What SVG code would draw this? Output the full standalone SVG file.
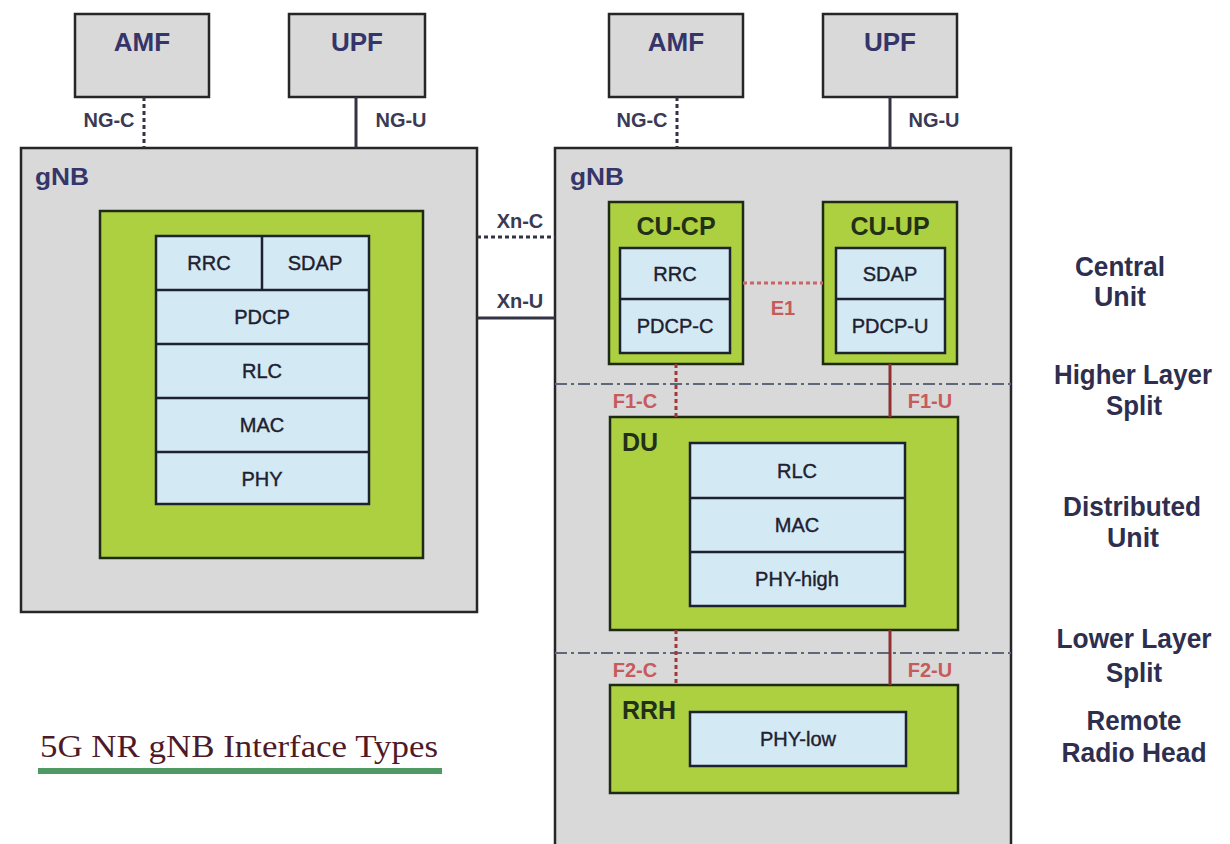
<svg xmlns="http://www.w3.org/2000/svg" width="1230" height="844" viewBox="0 0 1230 844">
<style>
.bg{fill:#ffffff}
.grey{fill:#d9d9d9;stroke:#262626;stroke-width:2.5}
.green{fill:#acd03f;stroke:#1e2a14;stroke-width:2.5}
.blue{fill:#d3e9f3;stroke:#1c2230;stroke-width:2.5}
.div{stroke:#1c2230;stroke-width:2.5}
.core{font-family:"Liberation Sans",Arial,sans-serif;font-weight:bold;font-size:26px;fill:#35356a;text-anchor:middle}
.gnb{font-family:"Liberation Sans",Arial,sans-serif;font-weight:bold;font-size:24px;fill:#35356a}
.lbl{font-family:"Liberation Sans",Arial,sans-serif;font-weight:bold;font-size:20px;fill:#3a3a55;text-anchor:middle}
.red{font-family:"Liberation Sans",Arial,sans-serif;font-weight:bold;font-size:20px;fill:#c75a5a;text-anchor:middle}
.unit{font-family:"Liberation Sans",Arial,sans-serif;font-weight:bold;font-size:25px;fill:#233018}
.unitc{font-family:"Liberation Sans",Arial,sans-serif;font-weight:bold;font-size:25px;fill:#233018;text-anchor:middle}
.layer{font-family:"Liberation Sans",Arial,sans-serif;font-size:20px;fill:#1e2030;stroke:#1e2030;stroke-width:0.4;text-anchor:middle}
.side{font-family:"Liberation Sans",Arial,sans-serif;font-weight:bold;font-size:27px;fill:#2e2e4e;text-anchor:middle}
.title{font-family:"Liberation Serif","Times New Roman",serif;font-size:31px;fill:#4e1a28}
.dashc{stroke:#333344;stroke-width:3;stroke-dasharray:4 3;fill:none}
.solid{stroke:#333344;stroke-width:3;fill:none}
.dashr{stroke:#a03838;stroke-width:3;stroke-dasharray:4 3;fill:none}
.solidr{stroke:#8e3030;stroke-width:3;fill:none}
.e1{stroke:#c86464;stroke-width:3;stroke-dasharray:4 3;fill:none}
.split{stroke:#5f6878;stroke-width:2;stroke-dasharray:12 4 3 4;fill:none}
</style>
<rect class="bg" x="0" y="0" width="1230" height="844"/>

<!-- Left side -->
<g id="amf-left"><rect class="grey" x="75" y="14" width="134" height="83"/><text class="core" x="142" y="51">AMF</text></g>
<g id="upf-left"><rect class="grey" x="289" y="14" width="136" height="83"/><text class="core" x="357" y="51">UPF</text></g>
<g id="gnb-left">
<rect class="grey" x="21" y="148" width="456" height="464"/>
<text class="gnb" x="35" y="185" textLength="54" lengthAdjust="spacingAndGlyphs">gNB</text>
<rect class="green" x="100" y="211" width="323" height="347"/>
<rect class="blue" x="156" y="236" width="213" height="268"/>
<line class="div" x1="156" y1="290" x2="369" y2="290"/>
<line class="div" x1="156" y1="344" x2="369" y2="344"/>
<line class="div" x1="156" y1="398" x2="369" y2="398"/>
<line class="div" x1="156" y1="452" x2="369" y2="452"/>
<line class="div" x1="262" y1="236" x2="262" y2="290"/>
<text class="layer" x="209" y="270">RRC</text>
<text class="layer" x="315" y="270">SDAP</text>
<text class="layer" x="262" y="324">PDCP</text>
<text class="layer" x="262" y="378">RLC</text>
<text class="layer" x="262" y="432">MAC</text>
<text class="layer" x="262" y="486">PHY</text>
</g>

<!-- Right side -->
<g id="amf-right"><rect class="grey" x="609" y="14" width="134" height="83"/><text class="core" x="676" y="51">AMF</text></g>
<g id="upf-right"><rect class="grey" x="823" y="14" width="134" height="83"/><text class="core" x="890" y="51">UPF</text></g>
<g id="gnb-right">
<rect class="grey" x="555" y="148" width="456" height="720"/>
<text class="gnb" x="570" y="185" textLength="54" lengthAdjust="spacingAndGlyphs">gNB</text>
</g>
<g id="cu-cp">
<rect class="green" x="609" y="202" width="134" height="162"/>
<text class="unitc" x="676" y="235">CU-CP</text>
<rect class="blue" x="620" y="248" width="110" height="105"/>
<line class="div" x1="620" y1="299" x2="730" y2="299"/>
<text class="layer" x="675" y="281">RRC</text>
<text class="layer" x="675" y="333">PDCP-C</text>
</g>
<g id="cu-up">
<rect class="green" x="823" y="202" width="134" height="162"/>
<text class="unitc" x="890" y="235">CU-UP</text>
<rect class="blue" x="836" y="248" width="109" height="105"/>
<line class="div" x1="836" y1="299" x2="945" y2="299"/>
<text class="layer" x="890" y="281">SDAP</text>
<text class="layer" x="890" y="333">PDCP-U</text>
</g>
<g id="du">
<rect class="green" x="610" y="417" width="348" height="213"/>
<text class="unit" x="622" y="451">DU</text>
<rect class="blue" x="690" y="443" width="215" height="163"/>
<line class="div" x1="690" y1="498" x2="905" y2="498"/>
<line class="div" x1="690" y1="552" x2="905" y2="552"/>
<text class="layer" x="797" y="478">RLC</text>
<text class="layer" x="797" y="532">MAC</text>
<text class="layer" x="797" y="586">PHY-high</text>
</g>
<g id="rrh">
<rect class="green" x="610" y="685" width="348" height="108"/>
<text class="unit" x="622" y="719">RRH</text>
<rect class="blue" x="690" y="712" width="216" height="54"/>
<text class="layer" x="798" y="746">PHY-low</text>
</g>

<!-- Connectors -->
<g id="connectors">
<line class="dashc" x1="144" y1="97" x2="144" y2="148"/>
<line class="solid" x1="356" y1="97" x2="356" y2="148"/>
<line class="dashc" x1="677" y1="97" x2="677" y2="148"/>
<line class="solid" x1="890" y1="97" x2="890" y2="148"/>
<line class="dashc" x1="477" y1="237" x2="555" y2="237"/>
<line class="solid" x1="477" y1="318" x2="555" y2="318"/>
<line class="e1" x1="743" y1="283" x2="823" y2="283"/>
<line class="split" x1="555" y1="384" x2="1011" y2="384"/>
<line class="split" x1="555" y1="653" x2="1011" y2="653"/>
<line class="dashr" x1="676" y1="364" x2="676" y2="417"/>
<line class="solidr" x1="890" y1="364" x2="890" y2="417"/>
<line class="dashr" x1="676" y1="630" x2="676" y2="685"/>
<line class="solidr" x1="890" y1="630" x2="890" y2="685"/>
</g>

<!-- Connector labels -->
<g id="labels">
<text class="lbl" x="109" y="127">NG-C</text>
<text class="lbl" x="401" y="127">NG-U</text>
<text class="lbl" x="642" y="127">NG-C</text>
<text class="lbl" x="934" y="127">NG-U</text>
<text class="lbl" x="520" y="228">Xn-C</text>
<text class="lbl" x="520" y="308">Xn-U</text>
<text class="red" x="783" y="315">E1</text>
<text class="red" x="635" y="408">F1-C</text>
<text class="red" x="930" y="408">F1-U</text>
<text class="red" x="635" y="677">F2-C</text>
<text class="red" x="930" y="677">F2-U</text>
</g>

<!-- Side annotations -->
<g id="side">
<text class="side" x="1120" y="276" textLength="90" lengthAdjust="spacingAndGlyphs">Central</text>
<text class="side" x="1120" y="306" textLength="52" lengthAdjust="spacingAndGlyphs">Unit</text>
<text class="side" x="1133" y="384" textLength="158" lengthAdjust="spacingAndGlyphs">Higher Layer</text>
<text class="side" x="1134" y="415" textLength="56" lengthAdjust="spacingAndGlyphs">Split</text>
<text class="side" x="1132" y="516" textLength="138" lengthAdjust="spacingAndGlyphs">Distributed</text>
<text class="side" x="1133" y="547" textLength="52" lengthAdjust="spacingAndGlyphs">Unit</text>
<text class="side" x="1134" y="648" textLength="155" lengthAdjust="spacingAndGlyphs">Lower Layer</text>
<text class="side" x="1134" y="682" textLength="56" lengthAdjust="spacingAndGlyphs">Split</text>
<text class="side" x="1134" y="730" textLength="95" lengthAdjust="spacingAndGlyphs">Remote</text>
<text class="side" x="1134" y="762" textLength="145" lengthAdjust="spacingAndGlyphs">Radio Head</text>
</g>

<g id="title">
<text class="title" x="40" y="757" textLength="398" lengthAdjust="spacingAndGlyphs">5G NR gNB Interface Types</text>
<rect x="38" y="768" width="404" height="6" fill="#4f9a64"/>
</g>
</svg>
